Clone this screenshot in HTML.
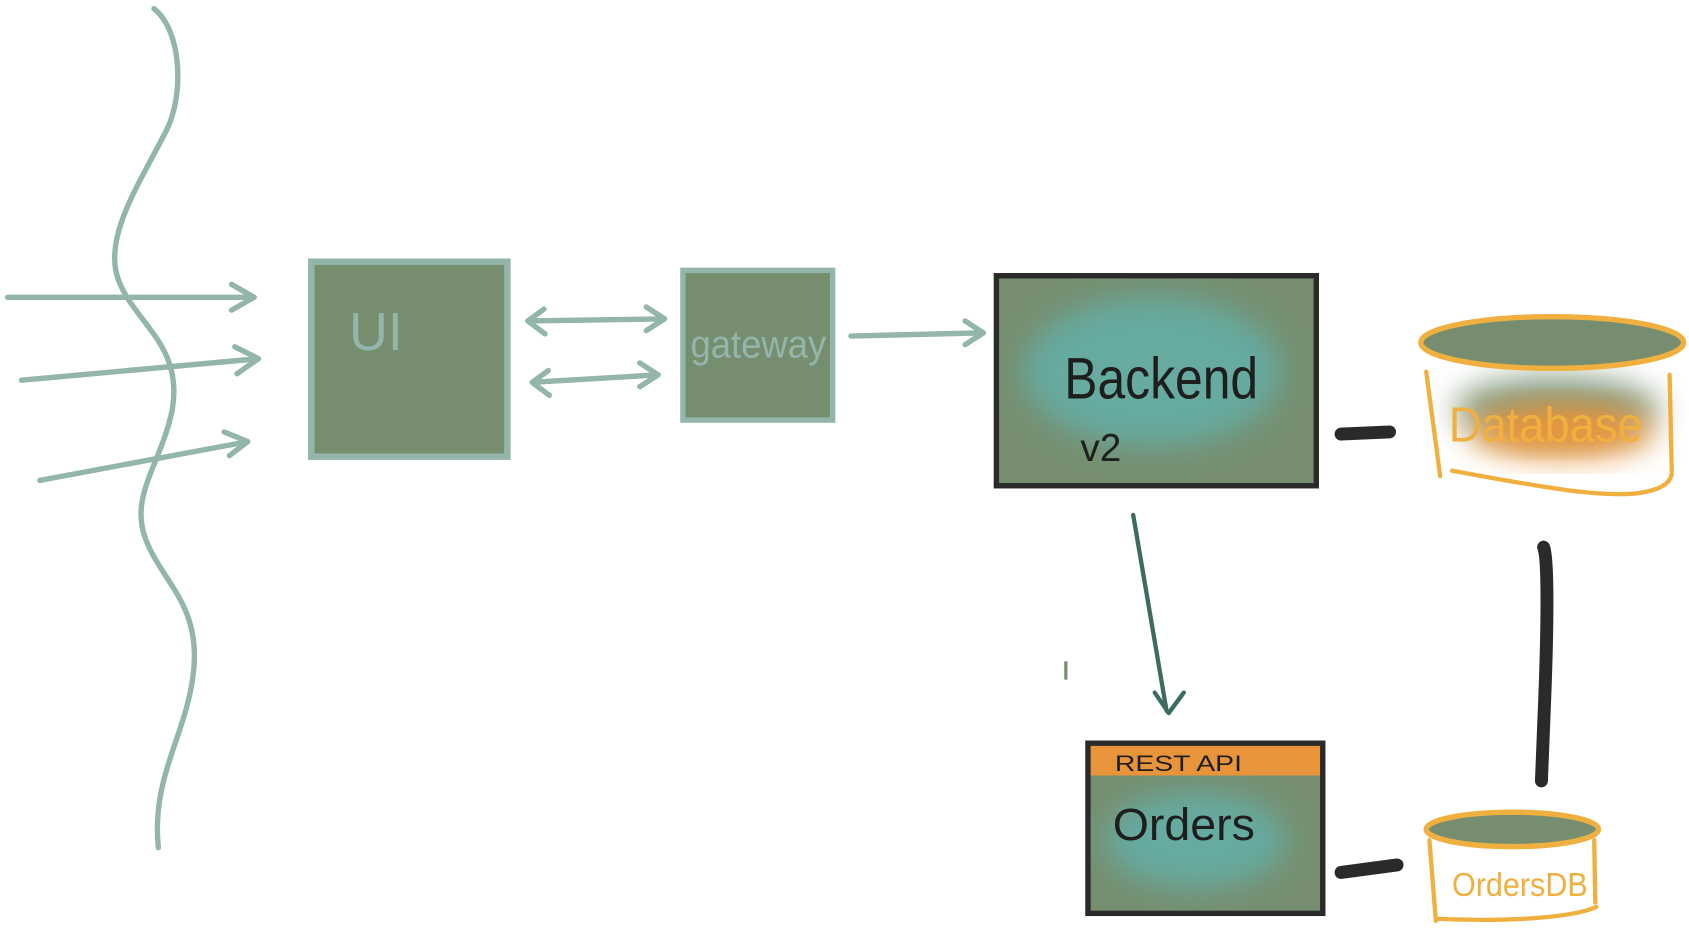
<!DOCTYPE html>
<html><head><meta charset="utf-8"><style>
html,body{margin:0;padding:0;background:#fff;}
svg{display:block;}
text{font-family:"Liberation Sans",sans-serif;}
</style></head><body>
<svg width="1689" height="936" viewBox="0 0 1568 869" preserveAspectRatio="none" xmlns="http://www.w3.org/2000/svg">
<defs>
<filter id="blur" x="-30%" y="-30%" width="160%" height="160%"><feGaussianBlur stdDeviation="14"/></filter>
<clipPath id="cb"><rect x="925" y="256" width="297" height="195"/></clipPath>
<clipPath id="co"><rect x="1010" y="690" width="218" height="158"/></clipPath>
</defs>
<g fill="none" stroke="#93b5aa" stroke-width="5" stroke-linecap="round" stroke-linejoin="round">
<path d="M143,8 C170,30 170,90 155,120 C130,170 95,220 110,260 C125,300 170,320 160,380 C150,430 120,460 135,500 C150,540 185,560 180,620 C175,680 140,720 147,787"/>
<path d="M7,276 L236,276 M215,264 L236,276 L215,288"/>
<path d="M20,353 L240,333 M218,322 L240,333 L220,347"/>
<path d="M37,446 L230,410 M208,401 L230,410 L213,423"/>
<path d="M490,298 L617,296 M505,287 L490,298 L506,310 M600,285 L617,296 L600,307"/>
<path d="M494,355 L611,348 M509,344 L494,355 L510,367 M594,337 L611,348 L594,359"/>
<path d="M790,312 L913,309 M896,298 L913,309 L896,320"/>
</g>
<rect x="289" y="243" width="182" height="181" fill="#768e6f" stroke="#93b5aa" stroke-width="6"/>
<text x="324" y="325" font-size="50" fill="#93b5aa">UI</text>
<rect x="634" y="251" width="139" height="139" fill="#768e6f" stroke="#93b5aa" stroke-width="5"/>
<text x="641" y="332" font-size="36" fill="#93b5aa" textLength="126" lengthAdjust="spacingAndGlyphs">gateway</text>

<!-- Backend -->
<rect x="925" y="256" width="297" height="195" fill="#768e6f"/>
<g clip-path="url(#cb)"><ellipse cx="1070" cy="345" rx="120" ry="70" fill="#66aaa0" filter="url(#blur)"/></g>
<rect x="925" y="256" width="297" height="195" fill="none" stroke="#2a2a2a" stroke-width="5"/>
<text x="988" y="370" font-size="54" fill="#1e1e1e" textLength="180" lengthAdjust="spacingAndGlyphs">Backend</text>
<text x="1003" y="428" font-size="36" fill="#1e1e1e">v2</text>

<!-- connectors -->
<g stroke="#2a2a2a" stroke-width="12" stroke-linecap="round" fill="none">
<path d="M1245,403 L1290,401"/>
<path d="M1433,508 C1438,520 1436,600 1434,650 L1431,725"/>
<path d="M1245,810 L1297,803"/>
</g>
<path d="M1052,478 L1083,660 M1072,643 L1085,662 L1099,643" fill="none" stroke="#3d6b60" stroke-width="4" stroke-linecap="round" stroke-linejoin="round"/>
<rect x="988" y="614" width="3" height="17" fill="#768e6f"/>

<!-- Database -->
<ellipse cx="1445" cy="380" rx="95" ry="30" fill="#768e6f" filter="url(#blur)" opacity="0.9"/>
<ellipse cx="1450" cy="400" rx="85" ry="25" fill="#e8943a" filter="url(#blur)"/>
<ellipse cx="1441" cy="318" rx="122" ry="24" fill="#768e6f" stroke="#f0b040" stroke-width="5"/>
<g fill="none" stroke="#f0b040" stroke-width="4" stroke-linecap="round">
<path d="M1324,345 L1337,442"/>
<path d="M1550,348 L1552,438"/>
<path d="M1348,437 C1420,450 1480,462 1520,458 C1540,455 1550,450 1552,440"/>
</g>
<text x="1345" y="410" font-size="46" fill="#f0b040" textLength="180" lengthAdjust="spacingAndGlyphs">Database</text>

<!-- Orders -->
<rect x="1010" y="690" width="218" height="158" fill="#768e6f"/>
<g clip-path="url(#co)">
<ellipse cx="1110" cy="780" rx="85" ry="45" fill="#66aaa0" filter="url(#blur)"/>
<rect x="1010" y="690" width="218" height="30" fill="#e8943a"/>
</g>
<rect x="1010" y="690" width="218" height="158" fill="none" stroke="#2a2a2a" stroke-width="5"/>
<text x="1035" y="716" font-size="21" fill="#1e1e1e" textLength="118" lengthAdjust="spacingAndGlyphs">REST API</text>
<text x="1033" y="780" font-size="42" fill="#1e1e1e" textLength="132" lengthAdjust="spacingAndGlyphs">Orders</text>

<!-- OrdersDB -->
<ellipse cx="1404" cy="770" rx="80" ry="16" fill="#768e6f" stroke="#f0b040" stroke-width="5"/>
<g fill="none" stroke="#f0b040" stroke-width="4" stroke-linecap="round">
<path d="M1327,780 L1333,855"/>
<path d="M1480,780 L1481,838"/>
<path d="M1335,853 C1400,856 1460,852 1482,842"/>
</g>
<text x="1348" y="832" font-size="31" fill="#f0b040" textLength="126" lengthAdjust="spacingAndGlyphs">OrdersDB</text>
</svg>
</body></html>
